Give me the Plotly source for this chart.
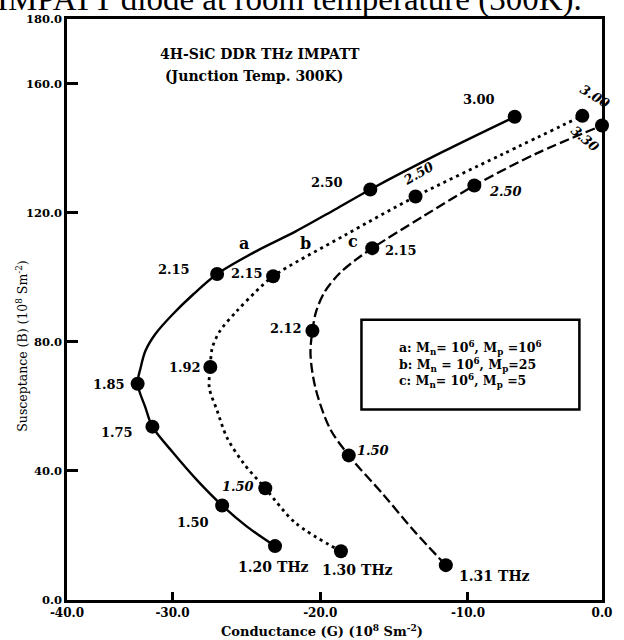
import plotly.graph_objects as go

# ---------------- data ----------------
# curve a: Mn=1e6, Mp=1e6 (solid)
a_line_G = [-23.06, -24.98, -26.64, -28.31, -29.97, -31.36, -31.83, -32.36, -32.16, -31.83,
            -31.16, -30.03, -28.57, -26.98, -24.32, -21.66, -19.00, -16.61, -11.69, -6.84]
a_line_B = [16.7, 22.8, 29.3, 37.0, 45.7, 53.7, 59.6, 67.0, 71.9, 77.2,
            82.4, 88.3, 94.8, 101.0, 108.1, 114.2, 121.0, 127.2, 138.9, 149.7]
a_pts_G = [-23.06, -26.64, -31.36, -32.36, -26.98, -16.61, -6.84]
a_pts_B = [16.7, 29.3, 53.7, 67.0, 101.0, 127.2, 149.7]
a_freq = ["1.20 THz", "1.50", "1.75", "1.85", "2.15", "2.50", "3.00"]

# curve b: Mn=1e6, Mp=25 (dotted)
b_line_G = [-18.60, -21.66, -23.72, -25.18, -26.31, -26.98, -27.51, -27.44, -27.31, -26.78,
            -25.65, -24.32, -23.19, -18.34, -13.55, -7.71, -2.26]
b_line_B = [15.1, 23.8, 34.6, 42.3, 50.3, 58.7, 65.8, 72.2, 78.1, 83.4,
            89.5, 95.7, 100.3, 113.0, 125.0, 138.0, 150.0]
b_pts_G = [-18.60, -23.72, -27.44, -23.19, -13.55, -2.26]
b_pts_B = [15.1, 34.6, 72.2, 100.3, 125.0, 150.0]
b_freq = ["1.30 THz", "1.50", "1.92", "2.15", "2.50", "3.00"]

# curve c: Mn=1e6, Mp=5 (dashed)
c_line_G = [-11.50, -13.69, -15.68, -18.07, -19.34, -20.33, -20.66, -20.53, -20.27, -19.67,
            -18.67, -17.54, -16.48, -13.02, -9.57, -5.38, -0.93]
c_line_B = [10.8, 21.6, 32.4, 44.8, 53.1, 65.8, 76.3, 83.4, 89.5, 95.7,
            101.3, 105.6, 109.0, 118.9, 128.4, 138.3, 147.0]
c_pts_G = [-11.50, -18.07, -20.53, -16.48, -9.57, -0.93]
c_pts_B = [10.8, 44.8, 83.4, 109.0, 128.4, 147.0]
c_freq = ["1.31 THz", "1.50", "2.12", "2.15", "2.50", "3.30"]

x_tickvals = [-37.14, -30, -20, -10, -0.93]
x_ticktext = ["-40.0", "-30.0", "-20.0", "-10.0", "0.0"]
y_tickvals = [0, 40, 80, 120, 160, 180]
y_ticktext = ["0.0", "40.0", "80.0", "120.0", "160.0", "180.0"]
X_RANGE = [-37.14, -0.93]
Y_RANGE = [0, 180]

WIDE = "DejaVu Serif, serif"
SERIF = "Liberation Serif, Times New Roman, serif"

fig = go.Figure()

def add_curve(G, B, dash, width):
    fig.add_trace(go.Scatter(x=G, y=B, mode="lines",
                             line=dict(color="black", width=width, dash=dash,
                                       shape="spline", smoothing=0.9),
                             hoverinfo="skip", showlegend=False))

def add_pts(G, B):
    fig.add_trace(go.Scatter(x=G, y=B, mode="markers", cliponaxis=False,
                             marker=dict(color="black", size=14),
                             showlegend=False))

add_curve(a_line_G, a_line_B, "solid", 2.4)
add_curve(b_line_G, b_line_B, "3px,4px", 2.8)
add_curve(c_line_G, c_line_B, "10px,4px", 2.3)
add_pts(a_pts_G, a_pts_B)
add_pts(b_pts_G, b_pts_B)
add_pts(c_pts_G, c_pts_B)

# ---------------- labels ----------------
labels = [
    # (text, G, B, angle, size, italic)
    (a_freq[0], -23.19, 10.2, 0, 14, False),
    (a_freq[1], -28.64, 24.1, 0, 13, False),
    (a_freq[2], -33.75, 51.9, 0, 13, False),
    (a_freq[3], -34.29, 66.8, 0, 13, False),
    (a_freq[4], -29.90, 102.5, 0, 13, False),
    (a_freq[5], -19.53, 129.4, 0, 13, False),
    (a_freq[6], -9.24, 155.0, 0, 13, False),
    (b_freq[0], -17.48, 9.3, 0, 14, False),
    (b_freq[1], -25.58, 35.2, 0, 13, True),
    (b_freq[2], -29.17, 71.9, 0, 13, False),
    (b_freq[3], -24.98, 101.0, 0, 13, False),
    (b_freq[4], -13.36, 132.1, -30, 13, True),
    (b_freq[5], -1.40, 156.0, 32, 13, True),
    (c_freq[0], -8.24, 7.4, 0, 14, False),
    (c_freq[1], -16.41, 46.3, 0, 13, True),
    (c_freq[2], -22.33, 84.0, 0, 13, False),
    (c_freq[3], -14.55, 108.4, 0, 13, False),
    (c_freq[4], -7.44, 126.6, 0, 13, True),
    (c_freq[5], -2.10, 142.9, 40, 13, True),
    ("a", -25.18, 110.5, 0, 16, False),
    ("b", -21.00, 110.5, 0, 16, False),
    ("c", -17.81, 111.1, 0, 16, False),
]
for t, gx, by, ang, sz, it in labels:
    fig.add_annotation(x=gx, y=by, xref="x", yref="y", text=t, showarrow=False,
                       textangle=ang, xanchor="center", yanchor="middle",
                       font=dict(family=WIDE, size=sz, color="black", weight="bold",
                                 style="italic" if it else "normal"))

# chart header inside plot
fig.add_annotation(x=-30.96, y=169.2, xref="x", yref="y", xanchor="left", yanchor="middle",
                   text="4H-SiC DDR THz IMPATT", showarrow=False,
                   font=dict(family=WIDE, size=14, color="black", weight="bold"))
fig.add_annotation(x=-30.63, y=162.4, xref="x", yref="y", xanchor="left", yanchor="middle",
                   text="(Junction Temp. 300K)", showarrow=False,
                   font=dict(family=WIDE, size=14, color="black", weight="bold"))

# legend box
fig.add_shape(type="rect", xref="x", yref="y", x0=-17.21, x1=-2.46, y0=59.0, y1=86.8,
              line=dict(color="black", width=2.5))
legend_lines = [
    "a: M<sub>n</sub>= 10<sup>6</sup>, M<sub>p</sub> =10<sup>6</sup>",
    "b: M<sub>n</sub> = 10<sup>6</sup>, M<sub>p</sub>=25",
    "c: M<sub>n</sub>= 10<sup>6</sup>, M<sub>p</sub> =5",
]
for t, by in zip(legend_lines, [78.2, 72.8, 67.9]):
    fig.add_annotation(x=-14.82, y=by, xref="x", yref="y", xanchor="left", yanchor="middle",
                       text=t, showarrow=False,
                       font=dict(family=WIDE, size=12.5, color="black", weight="bold"))

# axis titles
fig.add_annotation(x=(327 - 67) / 545, y=-31 / 583, xref="paper", yref="paper",
                   xanchor="center", yanchor="middle",
                   text="Conductance (G) (10<sup>8</sup> Sm<sup>-2</sup>)", showarrow=False,
                   font=dict(family=WIDE, size=13, color="black", weight="bold"))
fig.add_annotation(x=(21 - 67) / 545, y=(600 - 345) / 583, xref="paper", yref="paper",
                   xanchor="center", yanchor="middle",
                   text="Susceptance (B) (10<sup>8</sup> Sm<sup>-2</sup>)", showarrow=False,
                   textangle=-90,
                   font=dict(family=WIDE, size=12.5, color="black"))

# cropped caption at the very top of the page
fig.add_annotation(x=(594 - 67) / 545, y=1 + 20 / 583, xref="paper", yref="paper",
                   xanchor="right", yanchor="middle",
                   text="IMPATT diode at room temperature (300K).", showarrow=False,
                   font=dict(family=SERIF, size=33, color="black"))

fig.update_xaxes(range=X_RANGE, tickvals=x_tickvals, ticktext=x_ticktext,
                 showgrid=False, zeroline=False, showline=True, mirror=True,
                 linecolor="black", linewidth=2.5, ticks="inside", ticklen=8,
                 tickwidth=2.5, tickcolor="black",
                 tickfont=dict(family=WIDE, size=12, color="black", weight="bold"))
fig.update_yaxes(range=Y_RANGE, tickvals=y_tickvals, ticktext=y_ticktext,
                 showgrid=False, zeroline=False, showline=True, mirror=True,
                 linecolor="black", linewidth=2.5, ticks="inside", ticklen=11,
                 tickwidth=2.5, tickcolor="black",
                 tickfont=dict(family=WIDE, size=11.5, color="black", weight="bold"))

fig.update_layout(width=624, height=640, margin=dict(l=67, r=12, t=17, b=40),
                  plot_bgcolor="white", paper_bgcolor="white", showlegend=False)

fig.write_html("out.html")
